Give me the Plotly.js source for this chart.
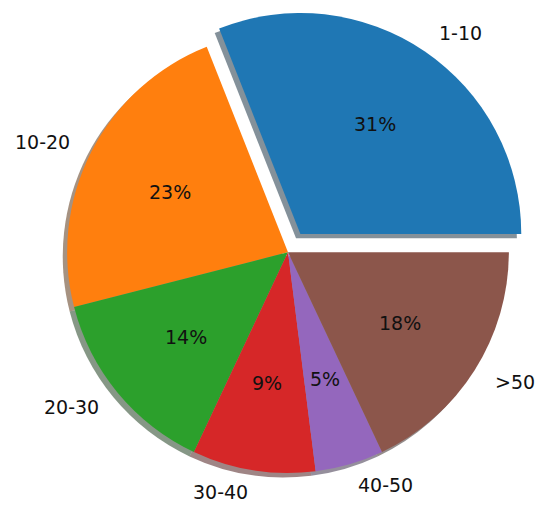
<!DOCTYPE html>
<html>
<head>
<meta charset="utf-8">
<script src="https://cdn.plot.ly/plotly-3.0.1.min.js"></script>
<style>html,body{margin:0;padding:0;background:#fff;}#chart{width:550px;height:512px;}</style>
</head>
<body>
<div id="chart"></div>
<script>
const categories = ["1-10", "10-20", "20-30", "30-40", "40-50", ">50"];
const values = [31, 23, 14, 9, 5, 18];
const pulls = [0.1, 0, 0, 0, 0, 0];
const colors = ["#1f77b4", "#ff7f0e", "#2ca02c", "#d62728", "#9467bd", "#8c564b"];

function shadowColor(hex) {
  const r = parseInt(hex.slice(1, 3), 16), g = parseInt(hex.slice(3, 5), 16), b = parseInt(hex.slice(5, 7), 16);
  return `rgba(${Math.round(r * 0.3)},${Math.round(g * 0.3)},${Math.round(b * 0.3)},0.5)`;
}

const total = values.reduce((a, b) => a + b, 0);
// start angle at 3 o'clock, going counterclockwise (Plotly offsets the first slice in ccw mode)
const rotation = 90 - 360 * values[0] / total;

const W = 550, H = 512;
const dom = { x: [0.0818, 0.9655], y: [0.033, 0.982] };
const sdx = -4.4 / W, sdy = -4.4 / H;
const font = { family: "DejaVu Sans", size: 19, color: "#111" };
const PCT_DIST = 0.6, LABEL_DIST = 1.1;

const common = {
  type: "pie",
  labels: categories,
  values: values,
  pull: pulls,
  sort: false,
  direction: "counterclockwise",
  rotation: rotation,
  hoverinfo: "none",
  textinfo: "none"
};

const shadow = Object.assign({}, common, {
  domain: { x: [dom.x[0] + sdx, dom.x[1] + sdx], y: [dom.y[0] + sdy, dom.y[1] + sdy] },
  marker: { colors: colors.map(shadowColor), line: { width: 0 } }
});

const main = Object.assign({}, common, {
  domain: dom,
  marker: { colors: colors, line: { width: 0 } }
});

const layout = {
  width: W, height: H,
  margin: { l: 0, r: 0, t: 0, b: 0 },
  paper_bgcolor: "#fff",
  showlegend: false,
  font: font
};

Plotly.newPlot("chart", [shadow, main], layout, { displayModeBar: false, staticPlot: true }).then(gd => {
  const cd = gd.calcdata[1];
  const cx = cd[0].cx, cy = cd[0].cy;
  const annotations = [];
  cd.forEach((pt, i) => {
    const mx = pt.pxmid[0], my = pt.pxmid[1];
    const p = pulls[i];
    const pctX = cx + mx * (p + PCT_DIST), pctY = cy + my * (p + PCT_DIST);
    const labX = cx + mx * (p + LABEL_DIST), labY = cy + my * (p + LABEL_DIST);
    const pct = Math.round(100 * values[i] / total) + "%";
    annotations.push({
      xref: "paper", yref: "paper", x: pctX / W, y: 1 - pctY / H,
      text: pct, showarrow: false, xanchor: "center", yanchor: "middle", font: font
    });
    annotations.push({
      xref: "paper", yref: "paper", x: labX / W, y: 1 - labY / H,
      text: categories[i], showarrow: false, xanchor: mx >= 0 ? "left" : "right", yanchor: "middle", font: font
    });
  });
  return Plotly.relayout(gd, { annotations: annotations });
});
</script>
</body>
</html>
